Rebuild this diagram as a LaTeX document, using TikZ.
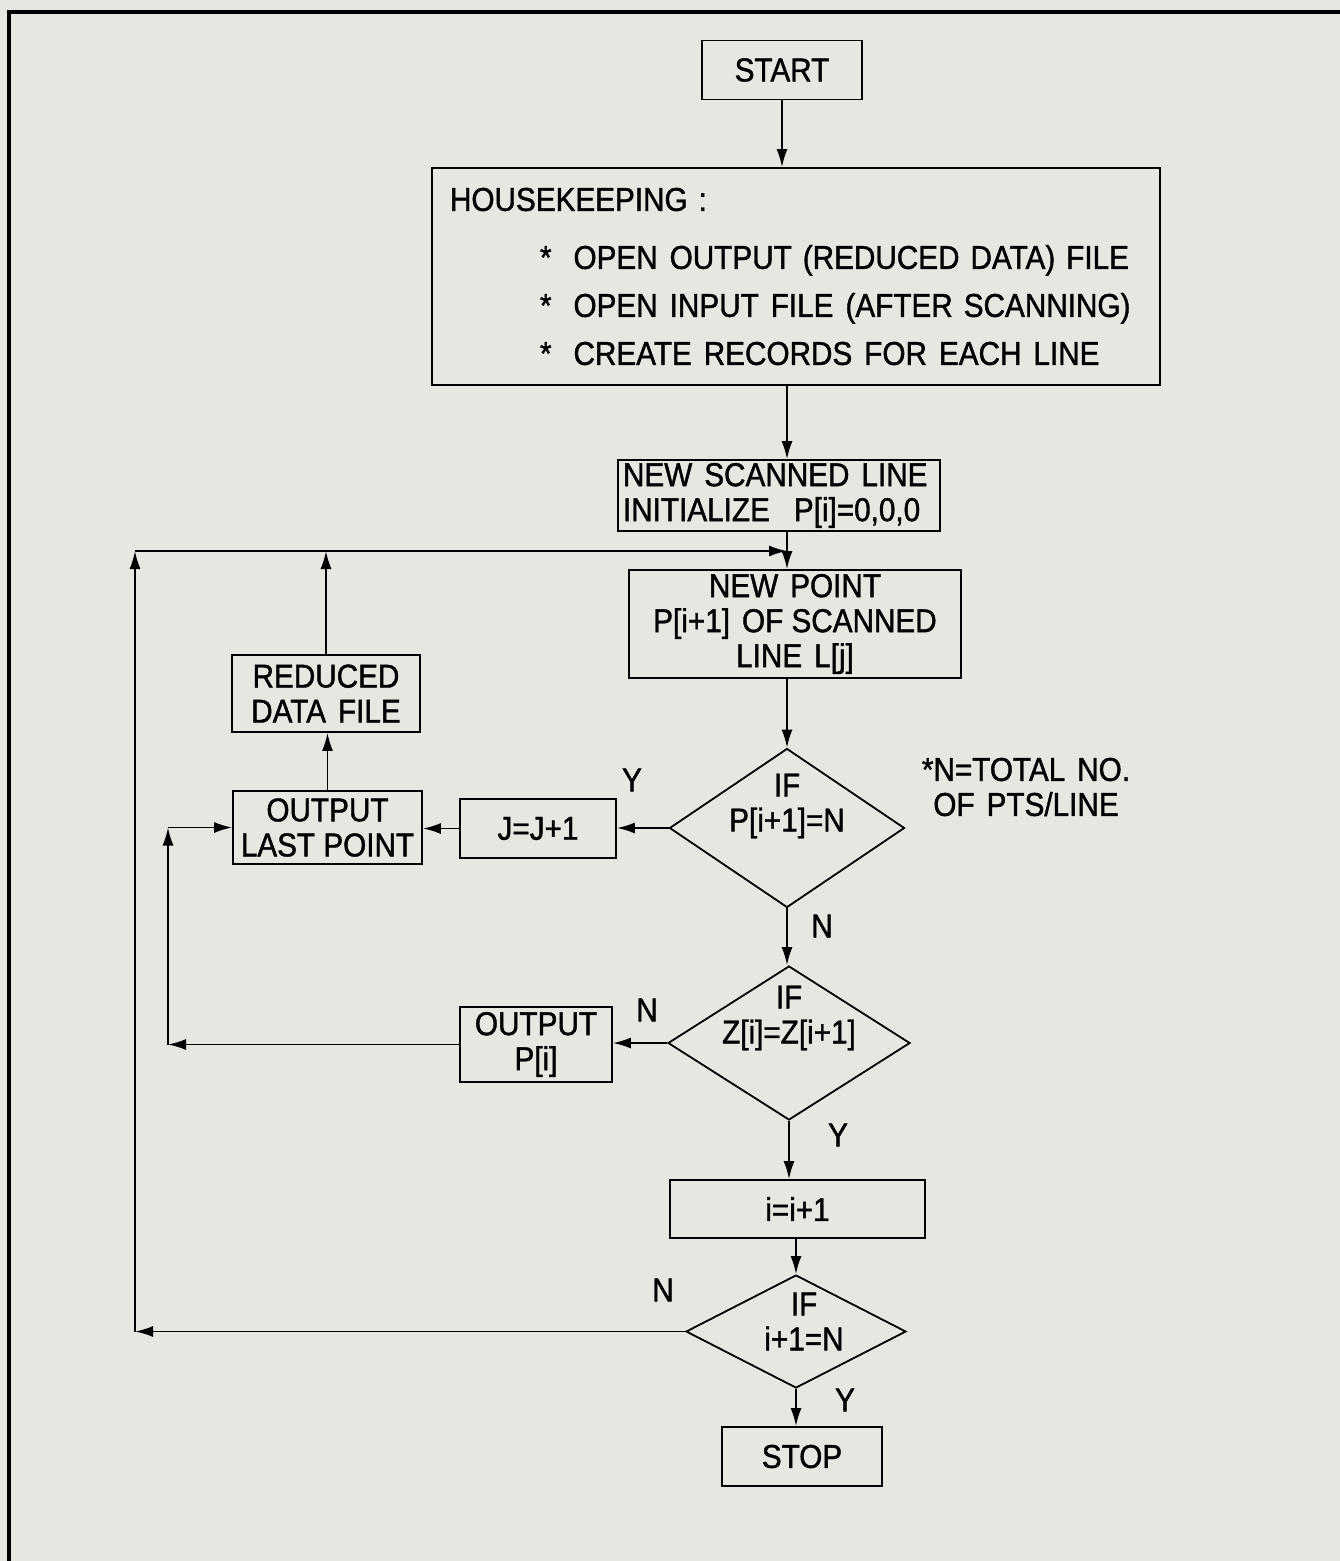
\documentclass[tikz,border=0pt]{standalone}
\usepackage{fontspec}
\setmainfont[FakeStretch=0.9,FakeBold=1.2]{Liberation Sans}
\usetikzlibrary{arrows.meta,shapes.geometric}
\definecolor{paper}{RGB}{228,232,225}
\tikzstyle{box} = [draw, line width=1.8pt, inner sep=0pt, align=center]
\tikzstyle{decision} = [draw, diamond, line width=1.8pt, inner sep=0pt]
\tikzstyle{iftext} = [align=center, inner sep=0pt]
\tikzstyle{flow} = [line width=1.8pt, -{Latex[length=18pt,width=11pt]}]
\tikzstyle{wire} = [line width=1.8pt]
\newcommand{\gap}{\hspace{12pt}}

\begin{document}
\begin{tikzpicture}[x=1pt,y=-1pt,font=\fontsize{33}{35}\selectfont]
    \fill[paper] (0,0) rectangle (1340,1561);
    \useasboundingbox (0,0) rectangle (1340,1561);
    \draw[line width=3.5pt] (9,1561) -- (9,12) -- (1340,12);

    % main column
    \node[box, minimum width=160pt, minimum height=59pt] (start) at (782,70) {START};
    \node[box, minimum width=728pt, minimum height=217pt, text width=692pt, align=left,
          font=\fontsize{33}{48}\selectfont] (hk) at (796,276.5)
        {HOUSEKEEPING :\\[10pt]
         \hspace*{90pt}*\ \ OPEN\gap OUTPUT (REDUCED DATA) FILE\\
         \hspace*{90pt}*\ \ OPEN\gap INPUT\gap FILE\gap (AFTER SCANNING)\\
         \hspace*{90pt}*\ \ CREATE\gap RECORDS\gap FOR\gap EACH\gap LINE};
    \node[box, minimum width=322pt, minimum height=71pt, text width=312pt, align=left] (nsl) at (779,495.5)
        {NEW\gap SCANNED\gap LINE\\INITIALIZE\gap\gap P[i]=0,0,0};
    \node[box, minimum width=332pt, minimum height=108pt] (np) at (795,624)
        {NEW\gap POINT\\P[i+1]\gap OF SCANNED\\LINE\gap L[j]};
    \node[decision, minimum width=235pt, minimum height=159pt,
          label={[iftext,yshift=22pt]center:{IF\\P[i+1]=N}}] (d1) at (787,828) {};
    \node[decision, minimum width=242pt, minimum height=154pt,
          label={[iftext,yshift=25pt]center:{IF\\Z[i]=Z[i+1]}}] (d2) at (789,1043) {};
    \node[box, minimum width=255pt, minimum height=58pt] (inc) at (797.5,1209) {i=i+1};
    \node[decision, minimum width=220pt, minimum height=113pt,
          label={[iftext,xshift=8pt,yshift=10pt]center:{IF\\i+1=N}}] (d3) at (796,1331.5) {};
    \node[box, minimum width=160pt, minimum height=59pt] (stop) at (802,1456.5) {STOP};

    % side boxes
    \node[box, minimum width=156pt, minimum height=59pt] (jinc) at (538,828.5) {J=J+1};
    \node[box, minimum width=189pt, minimum height=73pt] (olp) at (327.5,827.5) {OUTPUT\\LAST POINT};
    \node[box, minimum width=188pt, minimum height=77pt] (red) at (326,693.5) {REDUCED\\DATA\gap FILE};
    \node[box, minimum width=152pt, minimum height=75pt] (outp) at (536,1044.5) {OUTPUT\\P[i]};

    % answers and note
    \node (y1) at (632,780) {Y};
    \node (n1) at (822,926) {N};
    \node (n2) at (647,1010) {N};
    \node (y2) at (838,1135) {Y};
    \node (n3) at (663,1290) {N};
    \node (y3) at (845,1400) {Y};
    \node[align=center] (note) at (1026,787) {*N=TOTAL\gap NO.\\OF\gap PTS/LINE};

    % junctions
    \coordinate (spine) at (787,0);
    \coordinate (loopin) at (787,551);
    \coordinate (c1t) at (135,551);
    \coordinate (c1b) at (135,1331.5);
    \coordinate (c2b) at (168,1044.5);
    \coordinate (c2t) at (168,827.5);

    % down the column
    \draw[flow] (start.south) -- (start.south |- hk.north);
    \draw[flow] (hk.south -| spine) -- (nsl.north -| spine);
    \draw[wire] (nsl.south -| spine) -- (loopin);
    \draw[flow] (loopin) -- (np.north -| spine);
    \draw[flow] (np.south -| d1) -- (d1.north);
    \draw[flow] (d1.south) -- (d1.south |- d2.north);
    \draw[flow] (d2.south) -- (d2.south |- inc.north);
    \draw[flow] (inc.south -| d3) -- (d3.north);
    \draw[flow] (d3.south) -- (d3.south |- stop.north);

    % line finished
    \draw[flow] (d1.west) -- (d1.west -| jinc.east);
    \draw[flow] (jinc.west) -- (jinc.west -| olp.east);
    \draw[flow] (olp.north) -- (olp.north |- red.south);
    \draw[flow] (red.north) -- (red.north |- loopin);

    % z changes
    \draw[flow] (d2.west) -- (d2.west -| outp.east);
    \draw[flow] (outp.west) -- (c2b);
    \draw[flow] (c2b) -- (c2t);
    \draw[flow] (c2t) -- (olp.west);

    % next point
    \draw[flow] (d3.west) -- (c1b);
    \draw[flow] (c1b) -- (c1t);
    \draw[flow] (c1t) -- (loopin);
\end{tikzpicture}
\end{document}
